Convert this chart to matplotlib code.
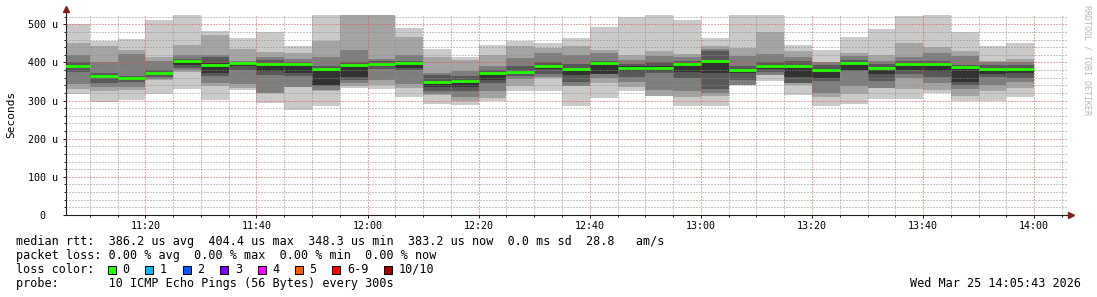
import matplotlib
matplotlib.use('Agg')
import matplotlib.pyplot as plt
import matplotlib.dates as mdates
import matplotlib.ticker as mticker
from matplotlib.patches import Rectangle
import numpy as np
import pandas as pd

W, H, DPI = 1097, 297, 100
MONO = 'DejaVu Sans Mono'

# ---------------- data ----------------
day = '2026-03-25'
bar_start = ['11:05', '11:10', '11:15', '11:20', '11:25', '11:30', '11:35',
             '11:40', '11:45', '11:50', '11:55', '12:00', '12:05', '12:10',
             '12:15', '12:20', '12:25', '12:30', '12:35', '12:40', '12:45',
             '12:50', '12:55', '13:00', '13:05', '13:10', '13:15', '13:20',
             '13:25', '13:30', '13:35', '13:40', '13:45', '13:50', '13:55']
step_minutes = 5
view_start = '11:05:43'
view_end = '14:06:05'

# ten sorted ping RTTs per 5-minute step (microseconds)
ping1 = [316, 297, 302, 317, 331, 302, 328, 294, 274, 286, 332, 331, 309, 291, 289, 298, 324, 324,
         286, 306, 324, 312, 286, 286, 340, 352, 315, 286, 291, 303, 303, 321, 300, 300, 309]
ping2 = [331, 325, 328, 354, 374, 338, 333, 319, 335, 326, 337, 341, 332, 315, 299, 306, 339, 358,
         337, 347, 335, 313, 309, 312, 340, 367, 340, 309, 318, 333, 331, 328, 312, 326, 332]
ping3 = [344, 335, 335, 356, 380, 347, 344, 320, 336, 327, 346, 354, 344, 316, 309, 324, 356, 362,
         338, 359, 350, 328, 324, 319, 341, 368, 345, 321, 337, 334, 359, 345, 330, 341, 350]
ping4 = [374, 345, 350, 361, 386, 365, 381, 368, 365, 337, 354, 383, 381, 326, 324, 345, 365, 370,
         350, 369, 363, 372, 359, 330, 354, 375, 347, 352, 378, 352, 370, 361, 340, 363, 359]
ping5 = [386, 360, 355, 367, 392, 373, 390, 377, 373, 341, 363, 390, 385, 335, 335, 354, 372, 383,
         367, 370, 378, 378, 374, 372, 372, 382, 363, 358, 379, 369, 380, 378, 350, 370, 372]
ping6 = [394, 368, 362, 376, 406, 398, 398, 396, 396, 386, 394, 398, 400, 350, 353, 372, 378, 390,
         383, 400, 390, 390, 396, 405, 380, 392, 390, 382, 398, 386, 398, 398, 390, 385, 385]
ping7 = [402, 372, 365, 380, 410, 413, 402, 407, 402, 390, 400, 404, 404, 366, 365, 380, 390, 402,
         395, 405, 395, 400, 405, 429, 390, 400, 403, 392, 407, 395, 405, 405, 394, 392, 392]
ping8 = [420, 402, 422, 405, 420, 420, 405, 415, 409, 415, 433, 408, 420, 372, 378, 391, 411, 424,
         420, 426, 407, 417, 413, 435, 417, 422, 415, 400, 417, 405, 415, 426, 417, 400, 400]
ping9 = [450, 443, 432, 415, 446, 472, 435, 428, 426, 455, 530, 530, 468, 415, 407, 420, 443, 437,
         442, 433, 420, 431, 422, 443, 437, 481, 429, 402, 426, 420, 452, 440, 431, 405, 408]
ping10 = [501, 457, 462, 512, 530, 483, 464, 480, 444, 530, 530, 530, 490, 435, 415, 446, 455, 452,
          464, 494, 520, 530, 512, 464, 530, 530, 446, 433, 468, 488, 522, 530, 481, 443, 450]
median_rtt = [391, 364, 358.5, 371.5, 404.4, 393, 398, 395, 395, 384, 393, 396, 399, 348.3, 352,
              373, 376, 391, 383, 399, 386, 386, 395, 404, 380, 391, 390, 380, 399, 385, 396, 397,
              389, 384, 383.2]

y_max = 524.4
y_major = [0, 100, 200, 300, 400, 500]
y_labels = ['0  ', '100 u', '200 u', '300 u', '400 u', '500 u']

loss_labels = ['0', '1', '2', '3', '4', '5', '6-9', '10/10']
loss_colors = ['#26ff00', '#00b8ff', '#0059ff', '#7e00ff', '#ff00ff', '#ff5e00', '#ff0000', '#a10000']

line_median = 'median rtt:  386.2 us avg  404.4 us max  348.3 us min  383.2 us now  0.0 ms sd  28.8   am/s'
line_loss = 'packet loss: 0.00 % avg  0.00 % max  0.00 % min  0.00 % now'
line_color = 'loss color:'
line_probe = 'probe:       10 ICMP Echo Pings (56 Bytes) every 300s'
stamp = 'Wed Mar 25 14:05:43 2026'

# ---------------- style ----------------
smoke_shades = ['#cacaca', '#a4a4a4', '#7e7e7e', '#585858', '#323232']
median_color = loss_colors[0]
grid_minor = (0.56, 0.56, 0.56, 0.32)
grid_major = (0.87, 0.31, 0.31, 0.45)
axis_color = '#1f1f1f'
arrow_color = '#801f1f'

fig = plt.figure(figsize=(W / DPI, H / DPI), dpi=DPI)
fig.patch.set_facecolor('white')

ax_l, ax_r, ax_b, ax_t = 66, 1068, 215, 15
ax = fig.add_axes([ax_l / W, 1 - ax_b / H, (ax_r - ax_l) / W, (ax_b - ax_t) / H])
ax.set_facecolor('white')

t = mdates.date2num(pd.to_datetime([f'{day} {s}' for s in bar_start]).to_pydatetime())
width = step_minutes / 1440.0
pings = np.array([ping1, ping2, ping3, ping4, ping5, ping6, ping7, ping8, ping9, ping10], dtype=float)

for k in range(5):
    lo = pings[k]
    hi = pings[9 - k]
    ax.bar(t, hi - lo, bottom=lo, width=width, align='edge', color=smoke_shades[k],
           linewidth=0, zorder=1)

ax.hlines(median_rtt, t, t + width, colors=median_color, linewidth=2.0, zorder=3,
          capstyle='butt')

x0 = mdates.date2num(pd.Timestamp(f'{day} {view_start}').to_pydatetime())
x1 = mdates.date2num(pd.Timestamp(f'{day} {view_end}').to_pydatetime())
ax.set_xlim(x0, x1)
ax.set_ylim(0, y_max)

ax.xaxis.set_major_locator(mdates.MinuteLocator(byminute=[0, 20, 40]))
ax.xaxis.set_minor_locator(mdates.MinuteLocator(byminute=range(0, 60, 5)))
ax.xaxis.set_major_formatter(mdates.DateFormatter('%H:%M'))
ax.set_yticks(y_major)
ax.set_yticklabels(y_labels)
ax.yaxis.set_minor_locator(mticker.MultipleLocator(20))

ax.set_axisbelow(False)
ax.grid(which='minor', color=grid_minor, linestyle=(0, (1, 2)), linewidth=0.72)
ax.grid(which='major', color=grid_major, linestyle=(0, (1, 2)), linewidth=0.72)

for s in ['top', 'right']:
    ax.spines[s].set_visible(False)
for s in ['left', 'bottom']:
    ax.spines[s].set_color(axis_color)
    ax.spines[s].set_linewidth(0.8)

ax.tick_params(which='both', direction='out', color=axis_color, width=0.72)
ax.tick_params(which='major', length=2.2)
ax.tick_params(which='minor', length=1.5)
ax.tick_params(axis='y', which='major', pad=3.4, labelsize=7.2)
ax.tick_params(axis='x', which='major', pad=2.4, labelsize=7.2)
for lab in ax.get_xticklabels() + ax.get_yticklabels():
    lab.set_family(MONO)

# axis arrows
ax.plot([0, 0], [1, 1 + 5 / 200], transform=ax.transAxes, color=axis_color, lw=0.8, clip_on=False)
ax.plot([0], [1 + 5.5 / 200], transform=ax.transAxes, marker='^', markersize=4.2,
        color=arrow_color, clip_on=False, zorder=5)
ax.plot([(1070.5 - ax_l) / (ax_r - ax_l)], [0], transform=ax.transAxes, marker='>', markersize=4.2,
        color=arrow_color, clip_on=False, zorder=5)


def fx(x):
    return x / W


def fy(y):
    return 1 - y / H


fig.text(fx(11), fy(114), 'Seconds', rotation=90, ha='center', va='center',
         fontsize=8, family=MONO)
fig.text(fx(1087), fy(60), 'RRDTOOL / TOBI OETIKER', rotation=270, ha='center', va='center',
         fontsize=6, family=MONO, color='#b8b8b8')

fs = 8.5
cw = 7.1
fig.text(fx(16), fy(245), line_median, fontsize=fs, family=MONO, va='baseline')
fig.text(fx(16), fy(259), line_loss, fontsize=fs, family=MONO, va='baseline')
fig.text(fx(16), fy(273), line_color, fontsize=fs, family=MONO, va='baseline')
fig.text(fx(16), fy(287), line_probe, fontsize=fs, family=MONO, va='baseline')
fig.text(fx(1081), fy(287), stamp, fontsize=fs, family=MONO, va='baseline', ha='right')

bx = 108.0
for lab, col in zip(loss_labels, loss_colors):
    fig.add_artist(Rectangle((fx(bx), fy(273.5)), 8 / W, 8 / H, transform=fig.transFigure,
                             facecolor=col, edgecolor='black', linewidth=0.72))
    tx = bx + 14.5
    fig.text(fx(tx), fy(273), lab, fontsize=fs, family=MONO, va='baseline')
    bx = tx + len(lab) * cw + 15.8

fig.savefig('out.png', dpi=DPI, facecolor='white')
